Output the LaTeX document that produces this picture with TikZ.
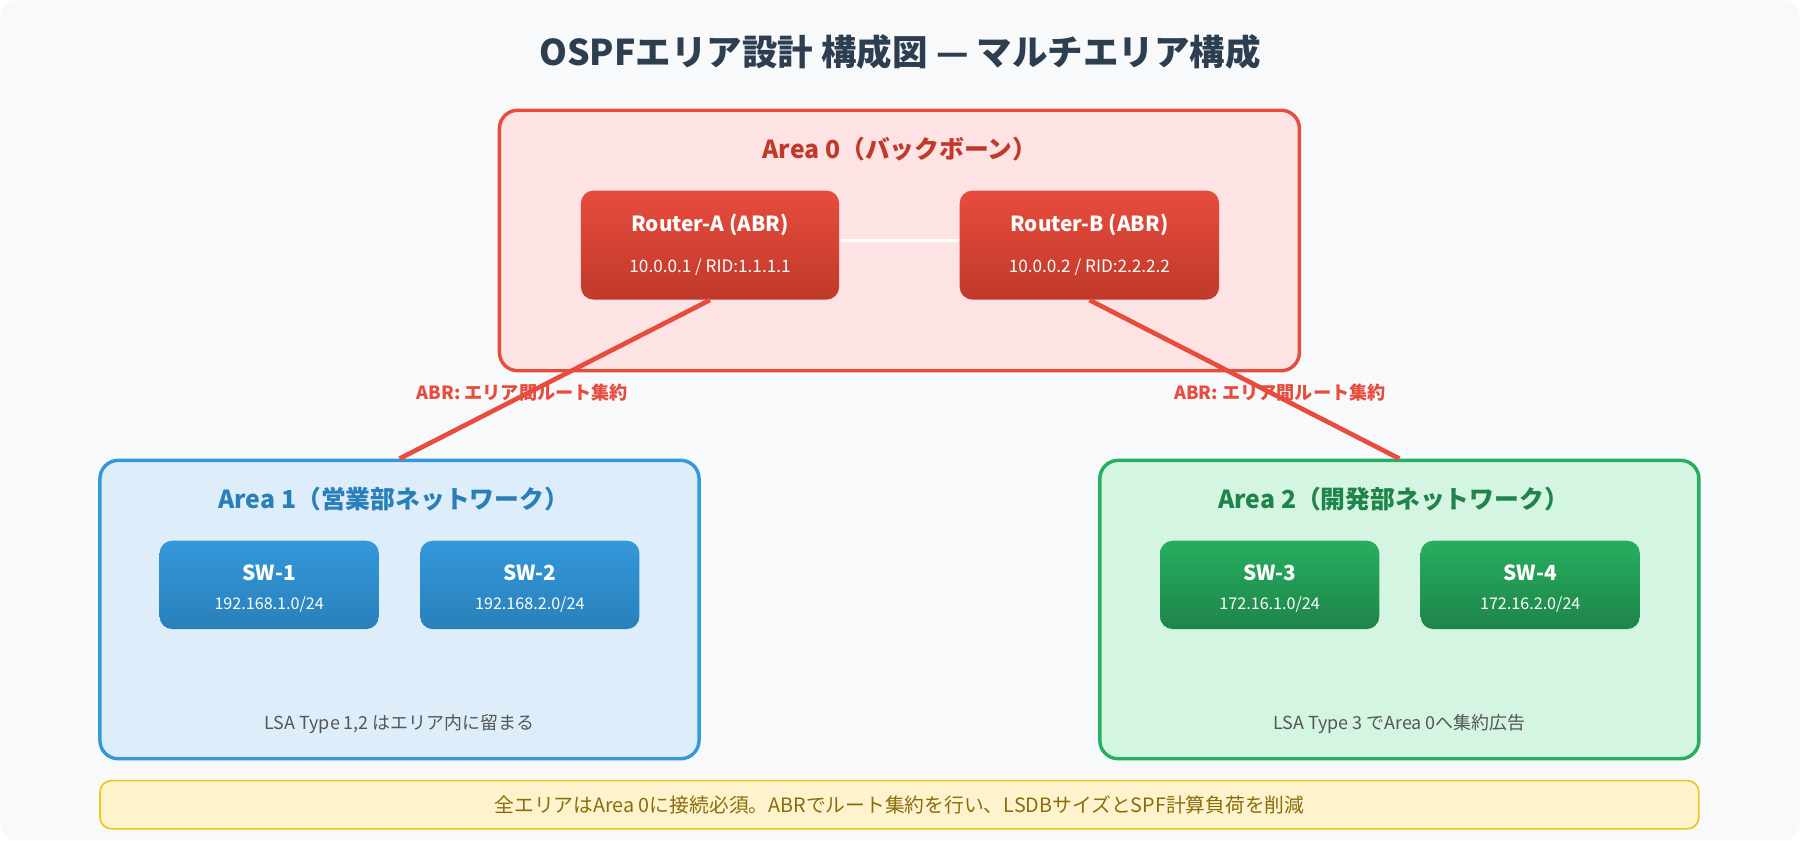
\documentclass[tikz,border=0pt]{standalone}
\usepackage{fontspec}
\setmainfont{Noto Sans CJK JP}
\begin{document}
\begin{tikzpicture}[x=0.02cm,y=-0.02cm,
  area/.style={draw,line width=1.7pt,rounded corners=0.32cm,inner sep=0pt},
  box/.style={rounded corners=0.22cm,inner sep=0pt},
  ttl/.style={font=\fontsize{12.3}{14}\selectfont\bfseries},
  bt/.style={text=white,font=\fontsize{10.3}{12}\selectfont\bfseries},
  st/.style={text=white,font=\fontsize{8}{9}\selectfont},
  lk/.style={font=\fontsize{9}{10}\selectfont\bfseries}]
\definecolor{bg}{HTML}{F7F9FB}
\definecolor{rd}{HTML}{E74C3C}\definecolor{rdd}{HTML}{C0392B}
\definecolor{bl}{HTML}{3498DB}\definecolor{bld}{HTML}{2980B9}
\definecolor{gr}{HTML}{27AE60}\definecolor{grd}{HTML}{1E8449}
\definecolor{gtxt}{HTML}{555555}
\definecolor{ttxt}{HTML}{2C3E50}
\definecolor{a0f}{HTML}{FDE3E3}\definecolor{a1f}{HTML}{DDEEFA}\definecolor{a2f}{HTML}{D5F5E3}
\definecolor{ftd}{HTML}{F0C419}\definecolor{ftf}{HTML}{FEF3CD}\definecolor{ftt}{HTML}{8A6D0B}
\fill[bg,rounded corners=0.3cm] (0,0) rectangle (1568,732);
\useasboundingbox (0,0) rectangle (1568,732);
\node[text=ttxt,font=\fontsize{17.6}{20}\selectfont\bfseries] (title) at (784,45) {OSPFエリア設計 構成図 — マルチエリア構成};
% areas
\node[area,draw=rd,fill=a0f,minimum width=13.94cm,minimum height=4.54cm] (a0) at (783.5,209.5) {};
\node[area,draw=bl,fill=a1f,minimum width=10.44cm,minimum height=5.2cm] (a1) at (348,531) {};
\node[area,draw=gr,fill=a2f,minimum width=10.44cm,minimum height=5.2cm] (a2) at (1219,531) {};
\node[ttl,text=rdd] (t0) at (784,130) {Area 0（バックボーン）};
\node[ttl,text=bld] (t1) at (343,435) {Area 1（営業部ネットワーク）};
\node[ttl,text=grd] (t2) at (1214,435) {Area 2（開発部ネットワーク）};
% routers
\node[box,top color=rd,bottom color=rdd,minimum width=4.5cm,minimum height=1.9cm] (ra) at (618.5,213.5) {};
\node[box,top color=rd,bottom color=rdd,minimum width=4.52cm,minimum height=1.9cm] (rb) at (949,213.5) {};
\draw[white,line width=1.8pt] ([yshift=0.08cm]ra.east) -- ([yshift=0.08cm]rb.west);
\node[bt] (ra1) at (618.5,196) {Router-A (ABR)};
\node[st,font=\fontsize{8.5}{10}\selectfont] (ra2) at (618.5,233) {10.0.0.1 / RID:1.1.1.1};
\node[bt] (rb1) at (949,196) {Router-B (ABR)};
\node[st,font=\fontsize{8.5}{10}\selectfont] (rb2) at (949,233) {10.0.0.2 / RID:2.2.2.2};
\draw[rd,line width=2.3pt] (ra.south) -- (a1.north);
\draw[rd,line width=2.3pt] (rb.south) -- (a2.north);
\node[lk,text=rd] (l1) at (455,342) {ABR: エリア間ルート集約};
\node[lk,text=rd] (l2) at (1115,342) {ABR: エリア間ルート集約};
% switches
\node[box,top color=bl,bottom color=bld,minimum width=3.82cm,minimum height=1.54cm] (s1) at (234.5,509.5) {};
\node[bt] at (234.5,499) {SW-1};\node[st] at (234.5,527) {192.168.1.0/24};
\node[box,top color=bl,bottom color=bld,minimum width=3.82cm,minimum height=1.54cm] (s2) at (461.5,509.5) {};
\node[bt] at (461.5,499) {SW-2};\node[st] at (461.5,527) {192.168.2.0/24};
\node[box,top color=gr,bottom color=grd,minimum width=3.82cm,minimum height=1.54cm] (s3) at (1106,509.5) {};
\node[bt] at (1106,499) {SW-3};\node[st] at (1106,527) {172.16.1.0/24};
\node[box,top color=gr,bottom color=grd,minimum width=3.82cm,minimum height=1.54cm] (s4) at (1333,509.5) {};
\node[bt] at (1333,499) {SW-4};\node[st] at (1333,527) {172.16.2.0/24};
\node[text=gtxt,font=\fontsize{8.9}{10}\selectfont] (n1) at (348,631) {LSA Type 1,2 はエリア内に留まる};
\node[text=gtxt,font=\fontsize{8.9}{10}\selectfont] (n2) at (1219,631) {LSA Type 3 でArea 0へ集約広告};
% footer
\node[draw=ftd,line width=0.8pt,fill=ftf,rounded corners=0.2cm,minimum width=27.86cm,minimum height=0.84cm,text=ftt,font=\fontsize{9.8}{11}\selectfont] (ft) at (783.5,701) {全エリアはArea 0に接続必須。ABRでルート集約を行い、LSDBサイズとSPF計算負荷を削減};
\end{tikzpicture}
\end{document}
